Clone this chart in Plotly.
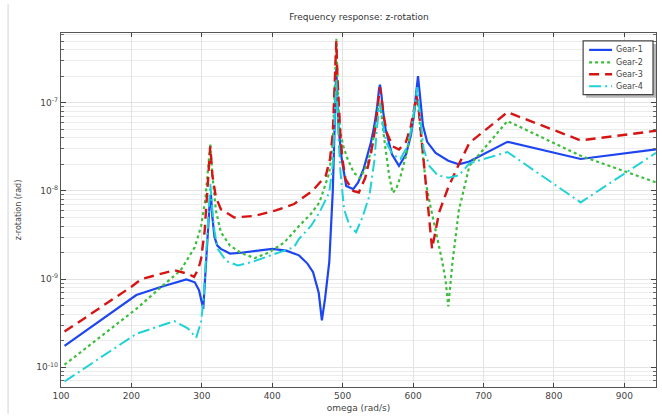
import plotly.graph_objects as go

# ---- data ----
g1_x = [105, 207, 245, 278, 290, 296, 302, 306, 309, 311, 313, 315, 318, 322, 327, 340, 356, 380, 400, 420, 438, 450, 458, 466, 470.5, 475, 481, 486, 488, 489.5, 491, 492.5, 494, 498, 505, 515, 522, 530, 540, 545, 549, 551.5, 553, 555, 557, 561, 570, 580, 590, 597, 601, 604, 607, 609, 611, 614, 620, 632, 650, 665, 680, 734, 838, 945]
g1_y = [1.75e-10, 6.6e-10, 8.3e-10, 9.9e-10, 9.2e-10, 7.5e-10, 4.6e-10, 1.5e-9, 3.5e-9, 7e-9, 9e-9, 5e-9, 3.0e-9, 2.4e-9, 2.2e-9, 1.95e-9, 1.99e-9, 2.1e-9, 2.2e-9, 2.1e-9, 1.86e-9, 1.5e-9, 1.2e-9, 7e-10, 3.4e-10, 6e-10, 1.57e-9, 1.0e-8, 3.0e-8, 1.0e-7, 2.5e-7, 1.1e-7, 5.5e-8, 2.5e-8, 1.14e-8, 1.05e-8, 1.25e-8, 1.8e-8, 3.5e-8, 5.5e-8, 9e-8, 1.4e-7, 1.6e-7, 1.25e-7, 8.5e-8, 5.0e-8, 2.6e-8, 1.92e-8, 2.6e-8, 4.3e-8, 7e-8, 1.2e-7, 2.0e-7, 1.4e-7, 9e-8, 5.5e-8, 3.6e-8, 2.7e-8, 2.2e-8, 2.0e-8, 2.15e-8, 3.6e-8, 2.3e-8, 2.95e-8]

g2_x = [105, 207, 245, 270, 290, 299, 305, 309, 312, 315, 320, 327, 340, 356, 375, 395, 417, 438, 455, 467, 481, 486, 488, 489.5, 491, 492.5, 494, 497, 501, 507, 516, 525, 535, 542, 547, 550.5, 553, 555.5, 558, 562, 566, 571, 576, 582, 590, 596, 600, 603, 606, 608.5, 611, 614, 618, 625, 632, 640, 646, 650, 656, 665, 680, 734, 838, 945]
g2_y = [1.07e-10, 4.6e-10, 8.5e-10, 1.26e-9, 2.3e-9, 4.0e-9, 8e-9, 1.8e-8, 3.4e-8, 1.5e-8, 6e-9, 3.4e-9, 2.4e-9, 1.97e-9, 1.73e-9, 2.0e-9, 2.6e-9, 4.0e-9, 5.5e-9, 7.4e-9, 1.6e-8, 3.5e-8, 8e-8, 2.0e-7, 5.3e-7, 2.0e-7, 9e-8, 4.5e-8, 3.2e-8, 2.3e-8, 1.6e-8, 1.4e-8, 2.0e-8, 3.3e-8, 5.5e-8, 8.5e-8, 9.5e-8, 7e-8, 4.5e-8, 2.6e-8, 1.5e-8, 9.5e-9, 1.05e-8, 1.45e-8, 2.5e-8, 4.3e-8, 6.8e-8, 9.5e-8, 1.1e-7, 7.5e-8, 4.2e-8, 2.3e-8, 1.24e-8, 6.5e-9, 3.7e-9, 1.8e-9, 1.0e-9, 4.9e-10, 1.56e-9, 6e-9, 1.92e-8, 6.2e-8, 2.5e-8, 1.25e-8]

g3_x = [105, 200, 214, 261, 280, 289, 295, 299, 304, 308, 312, 315, 320, 327, 346, 375, 405, 431, 457, 476, 482, 486, 488, 489.5, 491, 492.5, 494, 497, 500, 504, 515, 523, 532, 540, 546, 550, 553, 556, 559, 563, 571, 580, 590, 597, 601, 605, 608, 611, 614, 617, 620, 627, 637, 650, 665, 680, 734, 838, 945]
g3_y = [2.54e-10, 8.2e-10, 1.0e-9, 1.26e-9, 1.15e-9, 1.06e-9, 1.3e-9, 1.7e-9, 3.5e-9, 1.0e-8, 3.2e-8, 1.5e-8, 8.5e-9, 6.2e-9, 5.0e-9, 5.2e-9, 6e-9, 7.1e-9, 1.0e-8, 1.48e-8, 2.3e-8, 4.5e-8, 1.0e-7, 2.2e-7, 5e-7, 2.0e-7, 1.0e-7, 4e-8, 2.2e-8, 1.36e-8, 1.0e-8, 9.6e-9, 1.4e-8, 2.6e-8, 5e-8, 1.0e-7, 1.5e-7, 1.0e-7, 6.5e-8, 4.5e-8, 3.2e-8, 2.95e-8, 3.6e-8, 5.5e-8, 8e-8, 1.2e-7, 8.5e-8, 4.8e-8, 2.6e-8, 1.4e-8, 8.8e-9, 2.2e-9, 5.7e-9, 1.1e-8, 2.0e-8, 3.5e-8, 7.8e-8, 3.74e-8, 4.8e-8]

g4_x = [105, 207, 261, 280, 292, 299, 302.5, 306, 309, 312, 315, 318, 322.5, 335, 351, 370, 398, 431, 438, 455, 467, 481, 486, 488, 489.5, 491, 492.5, 494, 497, 502, 510, 519, 528, 538, 545, 549, 553, 556, 559, 563, 571, 582, 592, 598, 602, 606, 608.5, 611, 615, 623, 635, 651, 665, 680, 734, 838, 945]
g4_y = [6.9e-11, 2.4e-10, 3.34e-10, 2.77e-10, 2.17e-10, 3.3e-10, 6e-10, 2e-9, 5e-9, 1.2e-8, 6e-9, 3.5e-9, 2.2e-9, 1.6e-9, 1.43e-9, 1.55e-9, 1.86e-9, 2.3e-9, 2.86e-9, 4e-9, 5.7e-9, 9.6e-9, 2.0e-8, 5e-8, 1.1e-7, 1.8e-7, 9e-8, 4e-8, 1.6e-8, 6.2e-9, 4e-9, 3.4e-9, 5e-9, 8.8e-9, 2.2e-8, 5.5e-8, 1e-7, 7e-8, 4.5e-8, 3.4e-8, 2.6e-8, 2.3e-8, 3.2e-8, 5.2e-8, 8.5e-8, 1.5e-7, 9e-8, 5.5e-8, 3e-8, 1.92e-8, 1.5e-8, 1.41e-8, 1.5e-8, 2.05e-8, 2.76e-8, 7.4e-9, 2.7e-8]

series_names = ["Gear-1", "Gear-2", "Gear-3", "Gear-4"]
x_ticks = [100, 200, 300, 400, 500, 600, 700, 800, 900]
y_major = [1e-10, 1e-9, 1e-8, 1e-7]
y_major_text = ["10<sup>-10</sup>", "10<sup>-9</sup>", "10<sup>-8</sup>", "10<sup>-7</sup>"]
y_minor = [m * d for d in [1e-11, 1e-10, 1e-9, 1e-8, 1e-7] for m in range(2, 10)]

styles = [
    dict(color="rgb(30,70,240)", width=2.2, dash="solid"),
    dict(color="rgb(60,190,60)", width=2.2, dash="dot"),
    dict(color="rgb(215,20,20)", width=2.4, dash="10px,6px"),
    dict(color="rgb(30,210,215)", width=2.0, dash="12px,4px,2px,4px"),
]

fig = go.Figure()
for name, xs, ys, st in zip(series_names, [g1_x, g2_x, g3_x, g4_x], [g1_y, g2_y, g3_y, g4_y], styles):
    fig.add_trace(go.Scatter(x=xs, y=ys, mode="lines", name=name, line=st, showlegend=False))

ML, MR, MT, MB = 61, 5, 33, 27
PW, PH = 662 - ML - MR, 416 - MT - MB


def px(x):
    return (x - ML) / PW


def py(y):
    return 1 - (y - MT) / PH


font_fam = "DejaVu Sans, Arial, sans-serif"
fig.update_layout(
    width=662, height=416,
    margin=dict(l=ML, r=MR, t=MT, b=MB),
    paper_bgcolor="white", plot_bgcolor="white",
    title=dict(text="Frequency response: z-rotation", x=(ML + 657) / 2 / 662, xanchor="center",
               y=1 - 17 / 416, yanchor="middle", font=dict(family=font_fam, size=9, color="#333")),
    font=dict(family=font_fam, size=9, color="#444"),
    showlegend=False,
)
fig.update_xaxes(
    range=[100, 945], tickvals=x_ticks, ticks="inside", ticklen=4, tickcolor="#444",
    showline=True, linecolor="#555", linewidth=1.2, mirror="ticks",
    showgrid=True, gridcolor="#e3e3e3", gridwidth=1, zeroline=False,
    title=dict(text="omega (rad/s)", font=dict(size=9, color="#444"), standoff=4),
    tickfont=dict(size=9, color="#444"),
)
fig.update_yaxes(
    type="log", range=[-10.223, -6.21], tickvals=y_major, ticktext=y_major_text,
    ticks="inside", ticklen=5, tickcolor="#444",
    showline=True, linecolor="#555", linewidth=1.2, mirror="ticks",
    showgrid=True, gridcolor="#e3e3e3", gridwidth=1, zeroline=False,
    minor=dict(tickvals=y_minor, ticks="inside", ticklen=3, tickcolor="#666",
               showgrid=True, gridcolor="#ececec", gridwidth=1),
    title=dict(text="z-rotation (rad)", font=dict(size=8, color="#444"), standoff=13),
    tickfont=dict(size=9, color="#444"),
)

# faint panel frame at the left
fig.add_shape(type="line", xref="paper", yref="paper",
              x0=px(8), x1=px(8), y0=py(416), y1=py(4),
              line=dict(color="#e2e2e2", width=1.5))

# ---- custom legend (box with shadow) ----
bx0, by0, bx1, by1 = 584, 41, 654, 95
fig.add_shape(type="rect", xref="paper", yref="paper",
              x0=px(bx0 + 3), x1=px(bx1 + 3), y0=py(by1 + 3), y1=py(by0 + 3),
              line=dict(width=0), fillcolor="#b8b8b8")
fig.add_shape(type="rect", xref="paper", yref="paper",
              x0=px(bx0), x1=px(bx1), y0=py(by1), y1=py(by0),
              line=dict(color="#444", width=1.2), fillcolor="white")
row_y = [50, 62.5, 74.5, 86.5]
for name, st, ry in zip(series_names, styles, row_y):
    fig.add_shape(type="line", xref="paper", yref="paper",
                  x0=px(590), x1=px(613), y0=py(ry), y1=py(ry),
                  line=dict(color=st["color"], width=st["width"], dash=st["dash"]))
    fig.add_annotation(x=px(617), y=py(ry), xref="paper", yref="paper",
                       text=name, showarrow=False, xanchor="left", yanchor="middle",
                       xshift=-2, font=dict(family=font_fam, size=8, color="#444"))

fig.write_html("out.html")
